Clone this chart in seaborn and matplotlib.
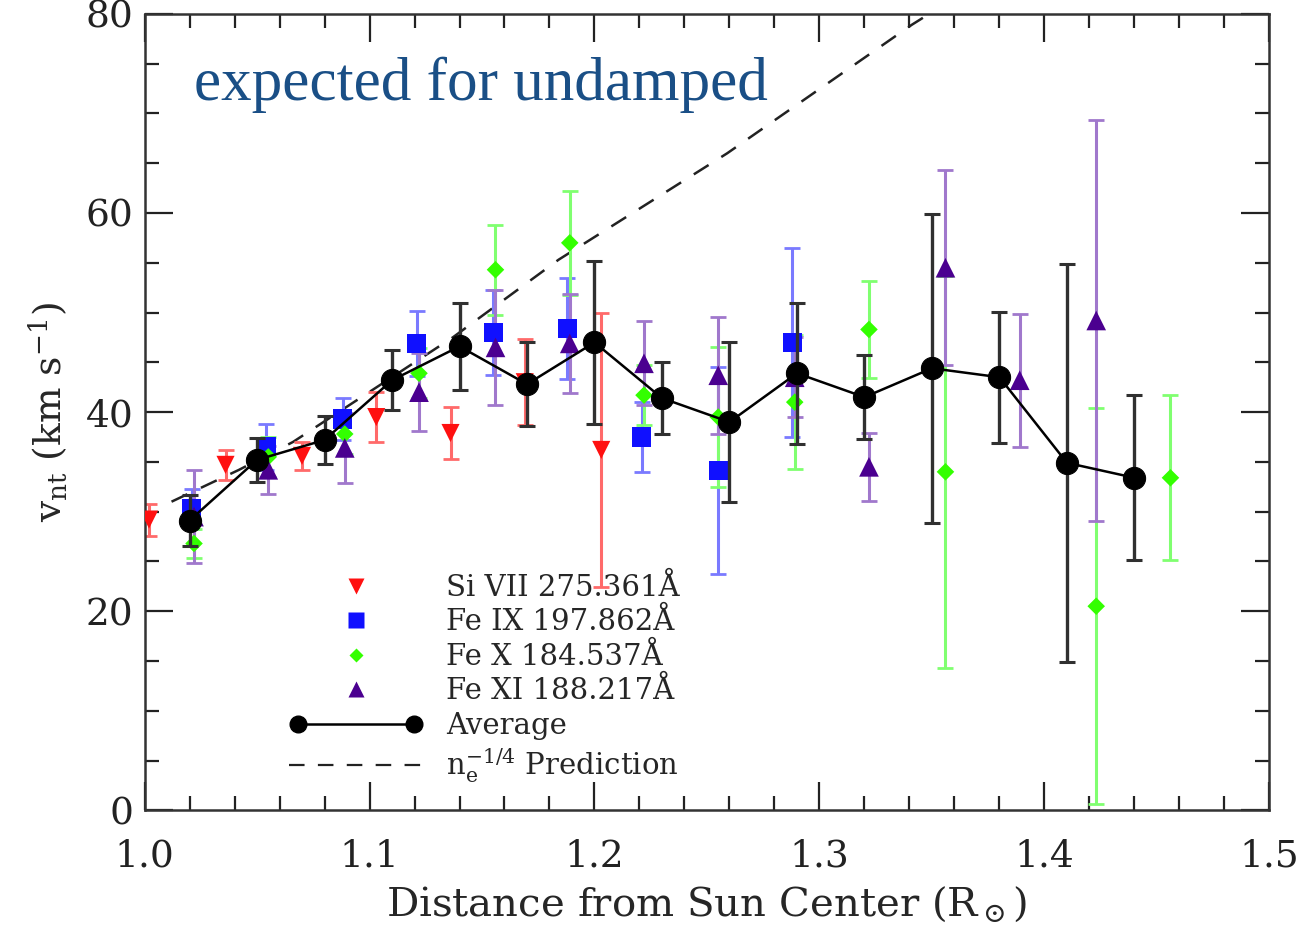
import matplotlib
matplotlib.use('Agg')
import matplotlib.pyplot as plt
import seaborn as sns
import pandas as pd
from matplotlib.lines import Line2D
from matplotlib.legend_handler import HandlerLine2D
from matplotlib.ticker import MultipleLocator

# values
avg_x = [1.02, 1.05, 1.08, 1.11, 1.14, 1.17, 1.20, 1.23, 1.26, 1.29, 1.32, 1.35, 1.38, 1.41, 1.44]
avg_y = [29.1, 35.2, 37.2, 43.2, 46.6, 42.8, 47.0, 41.4, 39.0, 43.9, 41.5, 44.4, 43.5, 34.9, 33.4]
avg_err = [2.6, 2.2, 2.4, 3.0, 4.4, 4.2, 8.2, 3.6, 8.0, 7.1, 4.2, 15.5, 6.6, 20.0, 8.3]

si7_x = [1.002, 1.036, 1.070, 1.103, 1.136, 1.169, 1.203]
si7_y = [29.2, 34.7, 35.6, 39.5, 37.9, 43.0, 36.2]
si7_err = [1.6, 1.5, 1.4, 2.5, 2.6, 4.3, 13.8]

fe9_x = [1.021, 1.054, 1.088, 1.121, 1.155, 1.188, 1.221, 1.255, 1.288]
fe9_y = [30.3, 36.5, 39.3, 46.9, 48.0, 48.4, 37.5, 34.1, 47.0]
fe9_err = [2.0, 2.3, 2.1, 3.3, 4.3, 5.1, 3.5, 10.4, 9.5]

fe10_x = [1.022, 1.055, 1.089, 1.122, 1.156, 1.189, 1.222, 1.255, 1.289, 1.322, 1.356, 1.423, 1.456]
fe10_y = [26.8, 35.5, 37.8, 43.9, 54.3, 57.0, 41.7, 39.5, 41.0, 48.3, 34.0, 20.5, 33.4]
fe10_err = [1.5, 2.0, 2.0, 2.5, 4.5, 5.2, 3.0, 7.0, 6.7, 4.9, 19.7, 19.9, 8.3]

fe11_x = [1.022, 1.055, 1.089, 1.122, 1.156, 1.189, 1.222, 1.255, 1.289, 1.322, 1.356, 1.389, 1.423]
fe11_y = [29.5, 34.2, 36.4, 42.0, 46.5, 46.9, 44.9, 43.7, 43.5, 34.5, 54.5, 43.2, 49.2]
fe11_err = [4.7, 2.4, 3.5, 3.9, 5.8, 5.0, 4.2, 5.9, 4.0, 3.4, 9.8, 6.7, 20.1]

pred_x = [1.012, 1.042, 1.066, 1.137, 1.184, 1.259, 1.341, 1.37]
pred_y = [31.0, 34.2, 37.0, 47.5, 55.3, 66.0, 78.9, 83.0]

labels = ['Si VII 275.361Å', 'Fe IX 197.862Å', 'Fe X 184.537Å', 'Fe XI 188.217Å']

sns.set_theme(style='ticks')
plt.rcParams['font.family'] = ['DejaVu Serif']
plt.rcParams['mathtext.fontset'] = 'dejavuserif'

fig = plt.figure(figsize=(13.02, 9.25), dpi=100)
ax = fig.add_axes([0.111, 0.124, 0.864, 0.861])

# line series: x, y, err, marker, size, colour, errorbar colour
series = [
    (si7_x, si7_y, si7_err, 'v', 170, '#ff1010', '#ff6a6a'),
    (fe9_x, fe9_y, fe9_err, 's', 190, '#1010ff', '#7a7aff'),
    (fe10_x, fe10_y, fe10_err, 'D', 80, '#33ff00', '#80ff70'),
    (fe11_x, fe11_y, fe11_err, '^', 200, '#4b0090', '#a078cc'),
]

for (xs, ys, es, mk, sz, col, ecol), lab in zip(series, labels):
    ax.errorbar(xs, ys, yerr=es, fmt='none', ecolor=ecol, elinewidth=2.2,
                capsize=6, capthick=2, zorder=2)
    df = pd.DataFrame({'x': xs, 'y': ys})
    sns.scatterplot(data=df, x='x', y='y', marker=mk, s=sz, color=col,
                    edgecolor='none', ax=ax, zorder=3)

# average
ax.errorbar(avg_x, avg_y, yerr=avg_err, fmt='none', ecolor='#303030',
            elinewidth=2.4, capsize=6, capthick=2.2, zorder=4)
avg_df = pd.DataFrame({'x': avg_x, 'y': avg_y})
sns.lineplot(data=avg_df, x='x', y='y', color='black', lw=1.8, marker='o',
             markersize=16, markeredgecolor='black', ax=ax, zorder=5, sort=False)

# prediction
pred_df = pd.DataFrame({'x': pred_x, 'y': pred_y})
sns.lineplot(data=pred_df, x='x', y='y', color='#222222', lw=1.8,
             ax=ax, zorder=1, sort=False, dashes=False)
ax.lines[-1].set_dashes([7, 6])

ax.set_xlim(1.0, 1.5)
ax.set_ylim(0, 80)
ax.xaxis.set_major_locator(MultipleLocator(0.1))
ax.xaxis.set_minor_locator(MultipleLocator(0.02))
ax.yaxis.set_major_locator(MultipleLocator(20))
ax.yaxis.set_minor_locator(MultipleLocator(5))
ax.xaxis.set_major_formatter(matplotlib.ticker.FormatStrFormatter('%.1f'))
ax.tick_params(which='both', direction='in', top=True, right=True,
               labelsize=27, width=1.6, colors='#222222')
ax.tick_params(axis='x', pad=20)
ax.tick_params(axis='y', pad=8)
ax.tick_params(which='major', length=20)
ax.tick_params(which='minor', length=10)
for sp in ax.spines.values():
    sp.set_linewidth(1.8)
    sp.set_color('#333333')

ax.set_xlabel(r'Distance from Sun Center (R$_\odot$)', fontsize=29, labelpad=8)
ax.set_ylabel(r'v$_{\rm nt}$ (km s$^{-1}$)', fontsize=27, labelpad=12)

ax.text(0.044, 0.892, 'expected for undamped', transform=ax.transAxes,
        fontsize=44, color='#1a4f86', family=['Liberation Serif'],
        va='baseline', ha='left')

# legend
handles = []
for (xs, ys, es, mk, sz, col, ecol) in series:
    handles.append(Line2D([], [], ls='none', marker=mk, color=col,
                          markersize=sz ** 0.5 * 0.85, markeredgecolor='none'))
avg_h = Line2D([], [], color='black', lw=1.8, marker='o', markersize=12)
pred_h = Line2D([], [], color='#222222', lw=1.6, dashes=[7, 6])
handles += [avg_h, pred_h]
leg_labels = labels + ['Average', r'n$_{\rm e}^{-1/4}$ Prediction']
ax.legend(handles, leg_labels, loc='upper left', bbox_to_anchor=(0.105, 0.33),
          frameon=False, fontsize=21, handlelength=4.6, handletextpad=0.8,
          labelspacing=0.22, numpoints=1,
          handler_map={avg_h: HandlerLine2D(numpoints=2)})

fig.savefig('out.png', dpi=100)
